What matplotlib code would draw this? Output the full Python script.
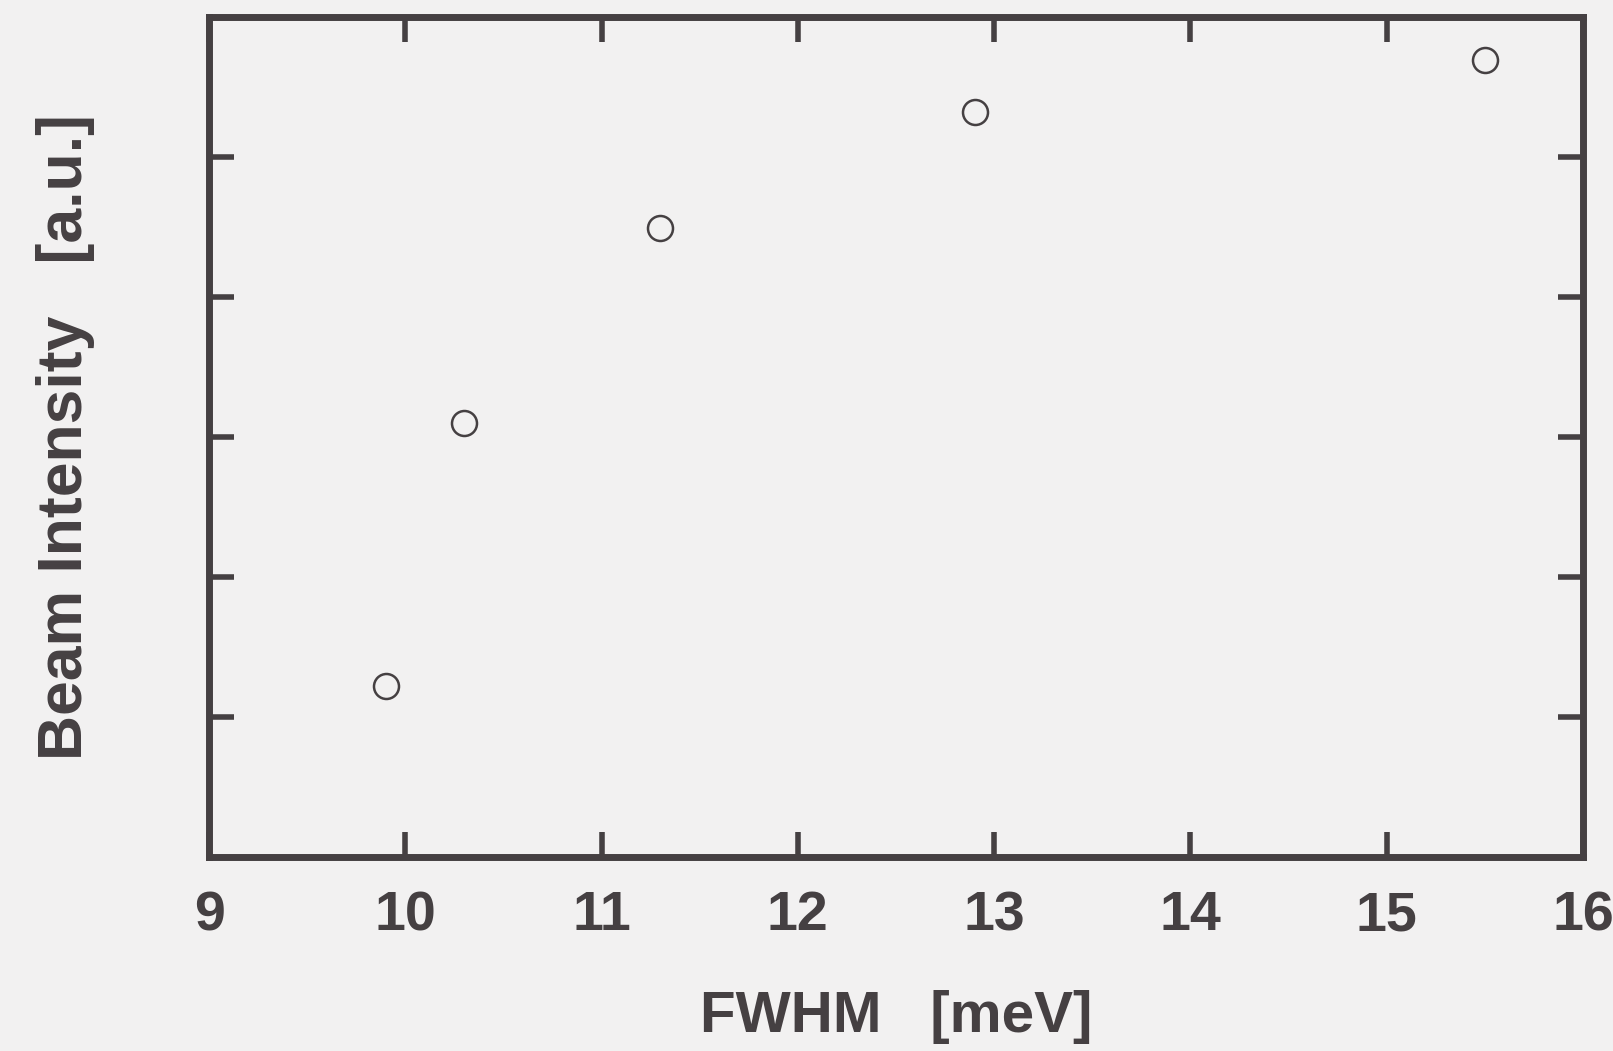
import matplotlib
matplotlib.use("Agg")
import matplotlib.pyplot as plt

fwhm = [9.9, 10.3, 11.3, 12.9, 15.5]
intensity = [1.22, 3.10, 4.49, 5.32, 5.69]
x_ticks = [9, 10, 11, 12, 13, 14, 15, 16]
y_ticks = [1, 2, 3, 4, 5]

INK = "#454042"
BG = "#f2f1f1"

plt.rcParams['font.family'] = ['Liberation Sans', 'DejaVu Sans']

fig = plt.figure(figsize=(16.13, 10.51), dpi=100, facecolor=BG)
ax = fig.add_axes([209 / 1613, 1 - 857 / 1051, (1583 - 209) / 1613, (857 - 17) / 1051])
ax.set_facecolor(BG)

ax.plot(fwhm, intensity, linestyle="none", marker="o", markersize=18,
        markerfacecolor="none", markeredgecolor=INK, markeredgewidth=1.8)

ax.set_xlim(9, 16)
ax.set_ylim(0, 6)
ax.set_xticks(x_ticks)
ax.set_yticks(y_ticks)
ax.set_yticklabels([])
ax.tick_params(axis="both", direction="in", length=18, width=4, color=INK,
               top=True, right=True, labelsize=40, labelcolor=INK, pad=24)
for lbl in ax.get_xticklabels():
    lbl.set_fontweight("bold")
for s in ax.spines.values():
    s.set_linewidth(5)
    s.set_color(INK)

ax.set_xlabel("FWHM   [meV]", fontsize=42, color=INK, fontweight="bold", labelpad=34)
ax.set_ylabel("Beam Intensity   [a.u.]", fontsize=45, color=INK, fontweight="bold", labelpad=58)

fig.savefig("out.png", dpi=100, facecolor=BG)
